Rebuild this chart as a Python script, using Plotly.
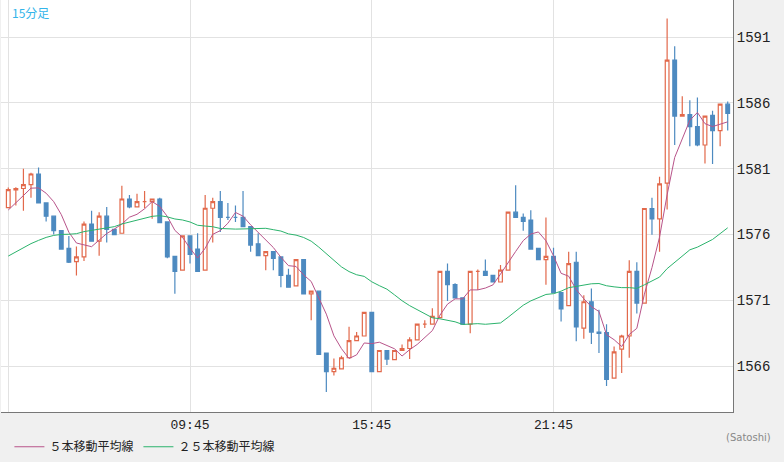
import plotly.graph_objects as go
import pandas as pd

opens = [1578.05,1579.4,1579.5,1579.8,1580.6,1578.4,1577.4,1576.3,1574.96,1573.95,1574.3,1576.8,1575.5,1577.4,1576.4,1576.1,1578.7,1578.1,1578.5,1578.5,
         1578.7,1576.96,1574.35,1573.3,1575.9,1574.9,1573.3,1578.0,1578.5,1577.3,1577.3,1577.3,1576.6,1575.3,1574.4,1574.7,1574.3,1572.9,1572.1,1574.1,
         1571.5,1571.7,1567.0,1565.6,1565.8,1566.65,1567.95,1568.3,1570.1,1565.6,1567.2,1566.5,1567.2,1567.35,1568.0,1569.2,1569.2,1569.7,1573.2,1572.2,
         1571.2,1569.2,1573.2,1573.2,1572.9,1572.4,1573.3,1577.7,1577.3,1577.1,1574.95,1574.1,1574.35,1571.6,1570.6,1573.9,1568.9,1570.9,1568.6,1568.55,
         1565.1,1567.3,1568.3,1573.2,1570.8,1577.98,1577.2,1579.9,1589.25,1585.0,1585.1,1584.2,1582.8,1585.05,1583.9,1585.9]
highs = [1579.57,1579.6,1581.0,1580.7,1581.1,1578.4,1577.4,1576.3,1575.9,1575.1,1577.0,1577.8,1577.7,1578.1,1576.4,1579.7,1579.0,1579.1,1579.3,1578.7,
         1578.8,1577.0,1574.35,1575.9,1575.9,1576.1,1579.0,1578.8,1579.3,1578.4,1578.2,1579.3,1576.6,1576.1,1574.7,1574.7,1574.3,1573.4,1574.1,1574.1,
         1571.7,1571.75,1567.0,1566.6,1566.8,1569.0,1568.6,1570.1,1570.1,1567.2,1567.2,1567.2,1567.65,1568.2,1569.2,1569.5,1570.4,1573.2,1573.8,1572.3,
         1571.2,1573.2,1573.35,1574.1,1572.9,1573.7,1577.7,1579.75,1577.6,1577.85,1574.95,1577.3,1575.0,1571.6,1574.7,1574.7,1571.4,1571.9,1570.3,1569.2,
         1567.5,1568.4,1574.05,1573.9,1578.0,1578.8,1580.4,1592.4,1590.3,1586.5,1586.2,1586.4,1585.0,1585.4,1585.9,1586.1]
lows = [1578.05,1578.2,1577.8,1578.8,1578.4,1577.0,1576.0,1574.9,1573.85,1572.9,1574.0,1575.5,1574.4,1575.4,1576.0,1576.1,1578.0,1578.1,1578.0,1577.2,
        1576.9,1574.2,1571.5,1573.3,1573.8,1573.2,1573.3,1575.4,1576.2,1577.1,1576.96,1576.6,1574.7,1574.4,1573.3,1573.3,1572.0,1572.0,1572.1,1571.5,
        1569.5,1566.9,1564.05,1565.3,1565.8,1566.65,1567.95,1568.3,1565.6,1565.6,1566.1,1566.5,1567.2,1566.55,1568.0,1568.9,1569.2,1569.7,1570.95,1571.2,
        1569.2,1568.5,1571.8,1572.9,1572.4,1572.4,1573.3,1577.3,1576.3,1574.9,1574.1,1572.2,1571.6,1569.4,1570.6,1567.9,1568.1,1567.7,1567.0,1564.5,
        1565.1,1565.5,1566.65,1570.0,1570.75,1575.98,1574.7,1577.9,1582.8,1585.0,1582.7,1582.7,1581.4,1581.35,1582.7,1583.9]
closes = [1579.42,1579.5,1579.8,1580.6,1578.4,1577.4,1576.3,1574.9,1573.9,1574.3,1576.8,1575.5,1577.4,1576.4,1576.0,1578.7,1578.1,1578.5,1578.5,1578.7,
          1576.9,1574.3,1573.2,1575.9,1574.5,1573.2,1578.0,1578.5,1577.3,1577.3,1577.3,1576.6,1575.2,1574.4,1574.7,1574.2,1572.9,1572.0,1574.1,1571.5,
          1571.7,1566.9,1565.6,1565.85,1566.65,1567.95,1568.3,1570.1,1565.6,1567.2,1566.55,1567.2,1567.35,1568.0,1569.2,1569.2,1569.8,1573.2,1572.2,1571.2,
          1569.2,1573.2,1573.2,1572.9,1572.4,1573.3,1577.7,1577.3,1577.0,1574.9,1574.1,1574.35,1571.6,1570.35,1573.8,1569.0,1570.9,1568.6,1568.5,1565.0,
          1567.1,1568.3,1573.2,1570.8,1577.98,1577.2,1579.85,1589.25,1585.0,1585.1,1584.2,1582.8,1585.0,1583.9,1585.9,1585.2]
prior_closes = [1571.5,1572.0,1572.8,1572.2,1571.8,1572.5,1573.0,1573.6,1573.2,1572.9,1573.5,1574.0,
                1574.4,1574.0,1573.6,1574.2,1574.8,1575.3,1575.0,1575.6,1576.6,1577.2,1577.8,1578.3]
tick_idx = [0, 24, 48, 72]
tick_labels = ["", "09:45", "15:45", "21:45"]
y_ticks = [1566, 1571, 1576, 1581, 1586, 1591]

x = list(range(len(closes)))
allc = pd.Series(prior_closes + closes)
n0 = len(prior_closes)
ma5 = allc.rolling(5).mean().iloc[n0:].tolist()
ma25 = allc.rolling(25).mean().iloc[n0:].tolist()

UP = "#e2694b"
DOWN = "#4d8ac0"

fig = go.Figure()
fig.add_trace(go.Candlestick(
    x=x, open=opens, high=highs, low=lows, close=closes,
    increasing=dict(line=dict(color=UP, width=1.2), fillcolor="white"),
    decreasing=dict(line=dict(color=DOWN, width=1.2), fillcolor=DOWN),
    whiskerwidth=0, showlegend=False, hoverinfo="skip"))
fig.add_trace(go.Scatter(x=x, y=ma5, mode="lines", line=dict(color="#b8548a", width=1),
                         name="５本移動平均線"))
fig.add_trace(go.Scatter(x=x, y=ma25, mode="lines", line=dict(color="#2bb36c", width=1),
                         name="２５本移動平均線"))

fig.update_layout(
    width=784, height=462,
    margin=dict(l=1, r=51, t=0, b=50, autoexpand=False),
    paper_bgcolor="#f0f0f0", plot_bgcolor="white",
    font=dict(family="Liberation Mono, DejaVu Sans Mono, Noto Sans CJK JP", size=13, color="#222"),
    xaxis=dict(range=[-0.96, 95.7], tickvals=tick_idx, ticktext=tick_labels,
               showgrid=True, gridcolor="#e2e2e2", zeroline=False, rangeslider=dict(visible=False),
               showline=True, linecolor="#777", mirror=False, ticks="", tickfont=dict(size=13)),
    yaxis=dict(range=[1562.53, 1593.81], side="right", tickvals=y_ticks,
               showgrid=True, gridcolor="#e2e2e2", zeroline=False,
               showline=True, linecolor="#777", ticks="", tickfont=dict(size=14)),
    legend=dict(orientation="h", x=0.012, y=0.033, xref="container", yref="container",
                xanchor="left", yanchor="middle",
                bgcolor="rgba(0,0,0,0)", font=dict(family="Noto Sans CJK JP", size=12, color="#222"),
                itemwidth=30),
    annotations=[
        dict(text="15分足", x=0.012, y=0.995, xref="paper", yref="paper", xanchor="left", yanchor="top",
             showarrow=False, font=dict(family="Noto Sans CJK JP", size=12, color="#33b5ea")),
        dict(text="(Satoshi)", x=1.055, y=-0.061, xref="paper", yref="paper", xanchor="right", yanchor="middle",
             showarrow=False, font=dict(family="DejaVu Sans", size=10, color="#888")),
    ],
)
fig.write_html("out.html", config={"displayModeBar": False},
               post_script="document.body.style.margin='0';")
